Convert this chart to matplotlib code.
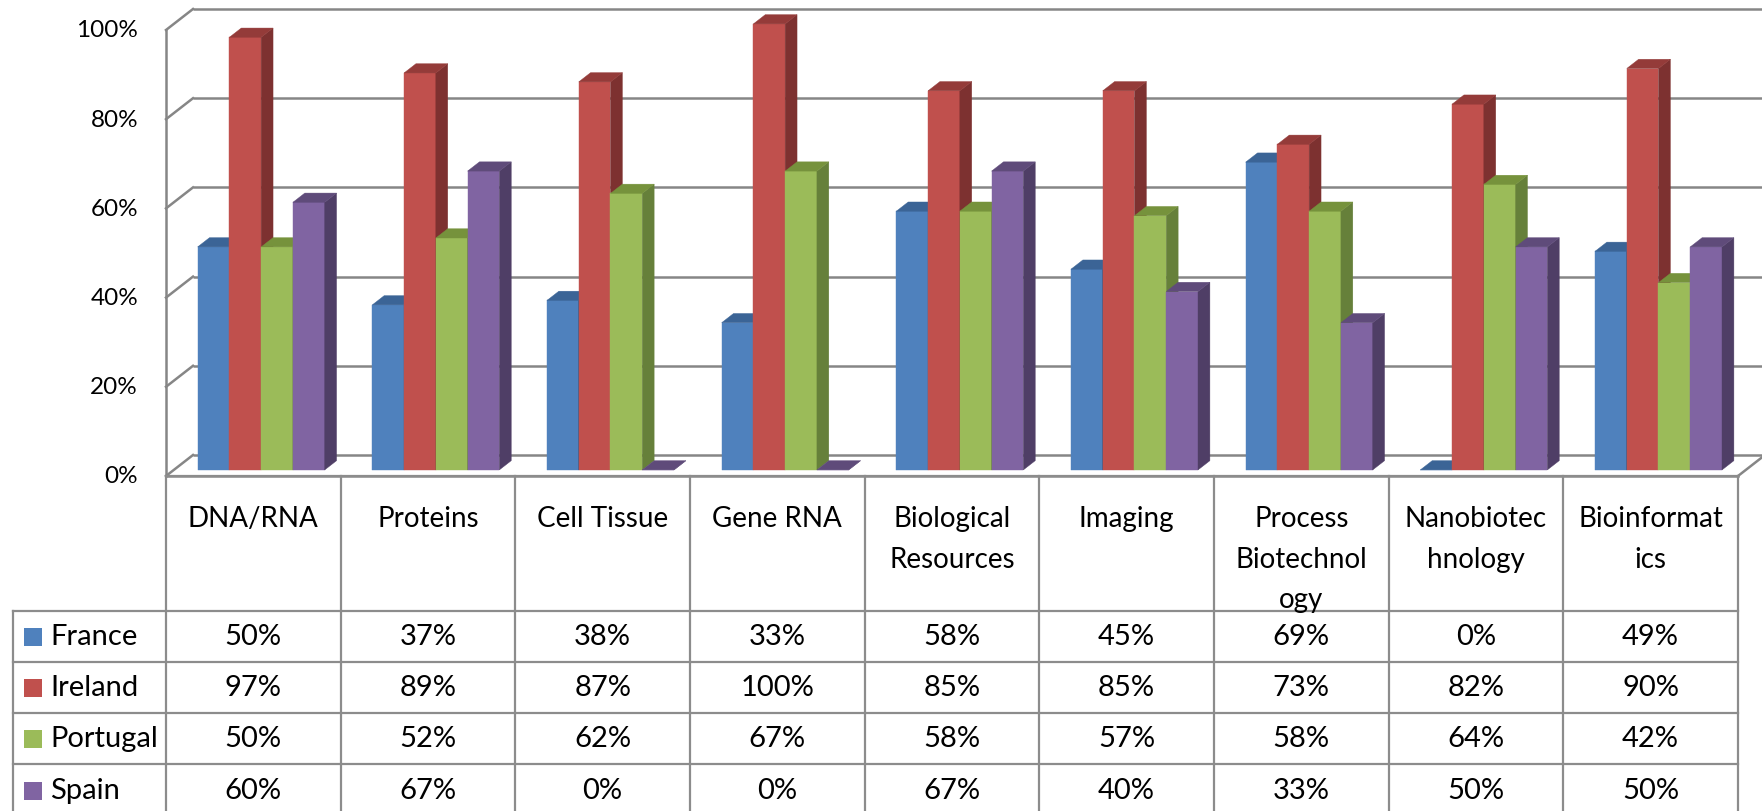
import matplotlib
matplotlib.use("Agg")
import matplotlib.pyplot as plt
from matplotlib.patches import Rectangle, Polygon

plt.rcParams['font.family'] = ['Lato', 'DejaVu Sans']

# data
categories = ["DNA/RNA", "Proteins", "Cell Tissue", "Gene RNA", "Biological\nResources",
              "Imaging", "Process\nBiotechnol\nogy", "Nanobiotec\nhnology", "Bioinformat\nics"]
series = ["France", "Ireland", "Portugal", "Spain"]
france = [0.50, 0.37, 0.38, 0.33, 0.58, 0.45, 0.69, 0.00, 0.49]
ireland = [0.97, 0.89, 0.87, 1.00, 0.85, 0.85, 0.73, 0.82, 0.90]
portugal = [0.50, 0.52, 0.62, 0.67, 0.58, 0.57, 0.58, 0.64, 0.42]
spain = [0.60, 0.67, 0.00, 0.00, 0.67, 0.40, 0.33, 0.50, 0.50]
values = [france, ireland, portugal, spain]
yticks = [0, 0.2, 0.4, 0.6, 0.8, 1.0]

front = ["#4F81BD", "#C0504D", "#9BBB59", "#8064A2"]
side = ["#2F4F7A", "#7D3130", "#66803A", "#4F3E66"]
top = ["#3B6496", "#943B39", "#76923C", "#5F4B7A"]
grid_c = "#868686"
line_c = "#8C8C8C"

W, H = 1762, 812
fig = plt.figure(figsize=(W / 100, H / 100), dpi=100)

# geometry (pixels)
x_front_l, x_front_r = 166, 1738
y_zero, y_full = 477, 31
ax = fig.add_axes([x_front_l / W, (H - y_zero) / H, (x_front_r - x_front_l) / W, (y_zero - y_full) / H])
n = len(categories)
ax.set_xlim(0, n)
ax.set_ylim(0, 1)
ax.axis("off")

cat_px = (x_front_r - x_front_l) / n
DX = 27 / cat_px          # full depth, x data units
DY = 21 / (y_zero - y_full)  # full depth, y data units
D0, D1 = 0.29, 0.73       # bar front/back depth fractions

# back wall gridlines + side wall diagonals
for t in yticks:
    ax.plot([DX, n + DX + 0.2], [t + DY, t + DY], color=grid_c, lw=1.8, zorder=1, clip_on=False,
            solid_capstyle="butt")
    ax.plot([0, DX], [t, t + DY], color=grid_c, lw=1.8, zorder=1, clip_on=False)
ax.plot([0, 0], [0, 1], color=grid_c, lw=1.8, zorder=1, clip_on=False)
# floor right edge
ax.plot([n, n + DX], [0, DY], color=grid_c, lw=1.8, zorder=1, clip_on=False)
ax.plot([0, n], [0, 0], color=line_c, lw=1.8, zorder=1, clip_on=False)

# bars
bw = 1 / (len(series) + 1.5)
ox, oy = D0 * DX, D0 * DY
bx, by = (D1 - D0) * DX, (D1 - D0) * DY
z = 2
for i in range(n):
    for k in range(len(series)):
        h = values[k][i]
        x0 = i + 0.75 * bw + k * bw + ox
        ax.add_patch(Rectangle((x0, oy), bw, h, facecolor=front[k], edgecolor=front[k], lw=0.3,
                               zorder=z, clip_on=False))
        ax.add_patch(Polygon([(x0 + bw, oy), (x0 + bw + bx, oy + by), (x0 + bw + bx, oy + h + by),
                              (x0 + bw, oy + h)], closed=True, facecolor=side[k], edgecolor=side[k],
                             lw=0.3, zorder=z, clip_on=False))
        ax.add_patch(Polygon([(x0, oy + h), (x0 + bw, oy + h), (x0 + bw + bx, oy + h + by),
                              (x0 + bx, oy + h + by)], closed=True, facecolor=top[k], edgecolor=top[k],
                             lw=0.3, zorder=z, clip_on=False))
        z += 1

# y tick labels on front edge
for t in yticks:
    ax.text(-28 / cat_px, t, f"{t:.0%}", ha="right", va="center", fontsize=17.5, clip_on=False)

# data table
x_tab_l = 13
xl = (x_front_l - x_tab_l) / cat_px
tab = fig.add_axes([x_tab_l / W, 0, (x_front_r - x_tab_l) / W, (H - y_zero) / H])
tab.set_xlim(-xl, n)
tab.set_ylim(H - y_zero, 0)
tab.axis("off")
head_h = 134.7
row_h = 51.1
row_tops = [head_h + r * row_h for r in range(len(series))]

tab.plot([0, n], [0, 0], color=line_c, lw=1.6, clip_on=False)
for r in row_tops:
    tab.plot([-xl, n], [r, r], color=line_c, lw=1.6, clip_on=False)
for c in range(n + 1):
    tab.plot([c, c], [0, H - y_zero], color=line_c, lw=1.6, clip_on=False)
tab.plot([-xl, -xl], [head_h, H - y_zero], color=line_c, lw=1.6, clip_on=False)

for i, cat in enumerate(categories):
    tab.text(i + 0.5, 29, cat, ha="center", va="top", fontsize=20, linespacing=1.7)

sq = 18 / cat_px
for k, name in enumerate(series):
    yc = row_tops[k] + row_h / 2
    tab.add_patch(Rectangle((-xl + 11 / cat_px, yc - 9 + 1), sq, 18, facecolor=front[k],
                            edgecolor="none", clip_on=False))
    tab.text(-xl + 37 / cat_px, yc, name, ha="left", va="center", fontsize=21)
    for i in range(n):
        tab.text(i + 0.5, yc, f"{values[k][i]:.0%}", ha="center", va="center", fontsize=21)

fig.savefig("out.png", dpi=100)
